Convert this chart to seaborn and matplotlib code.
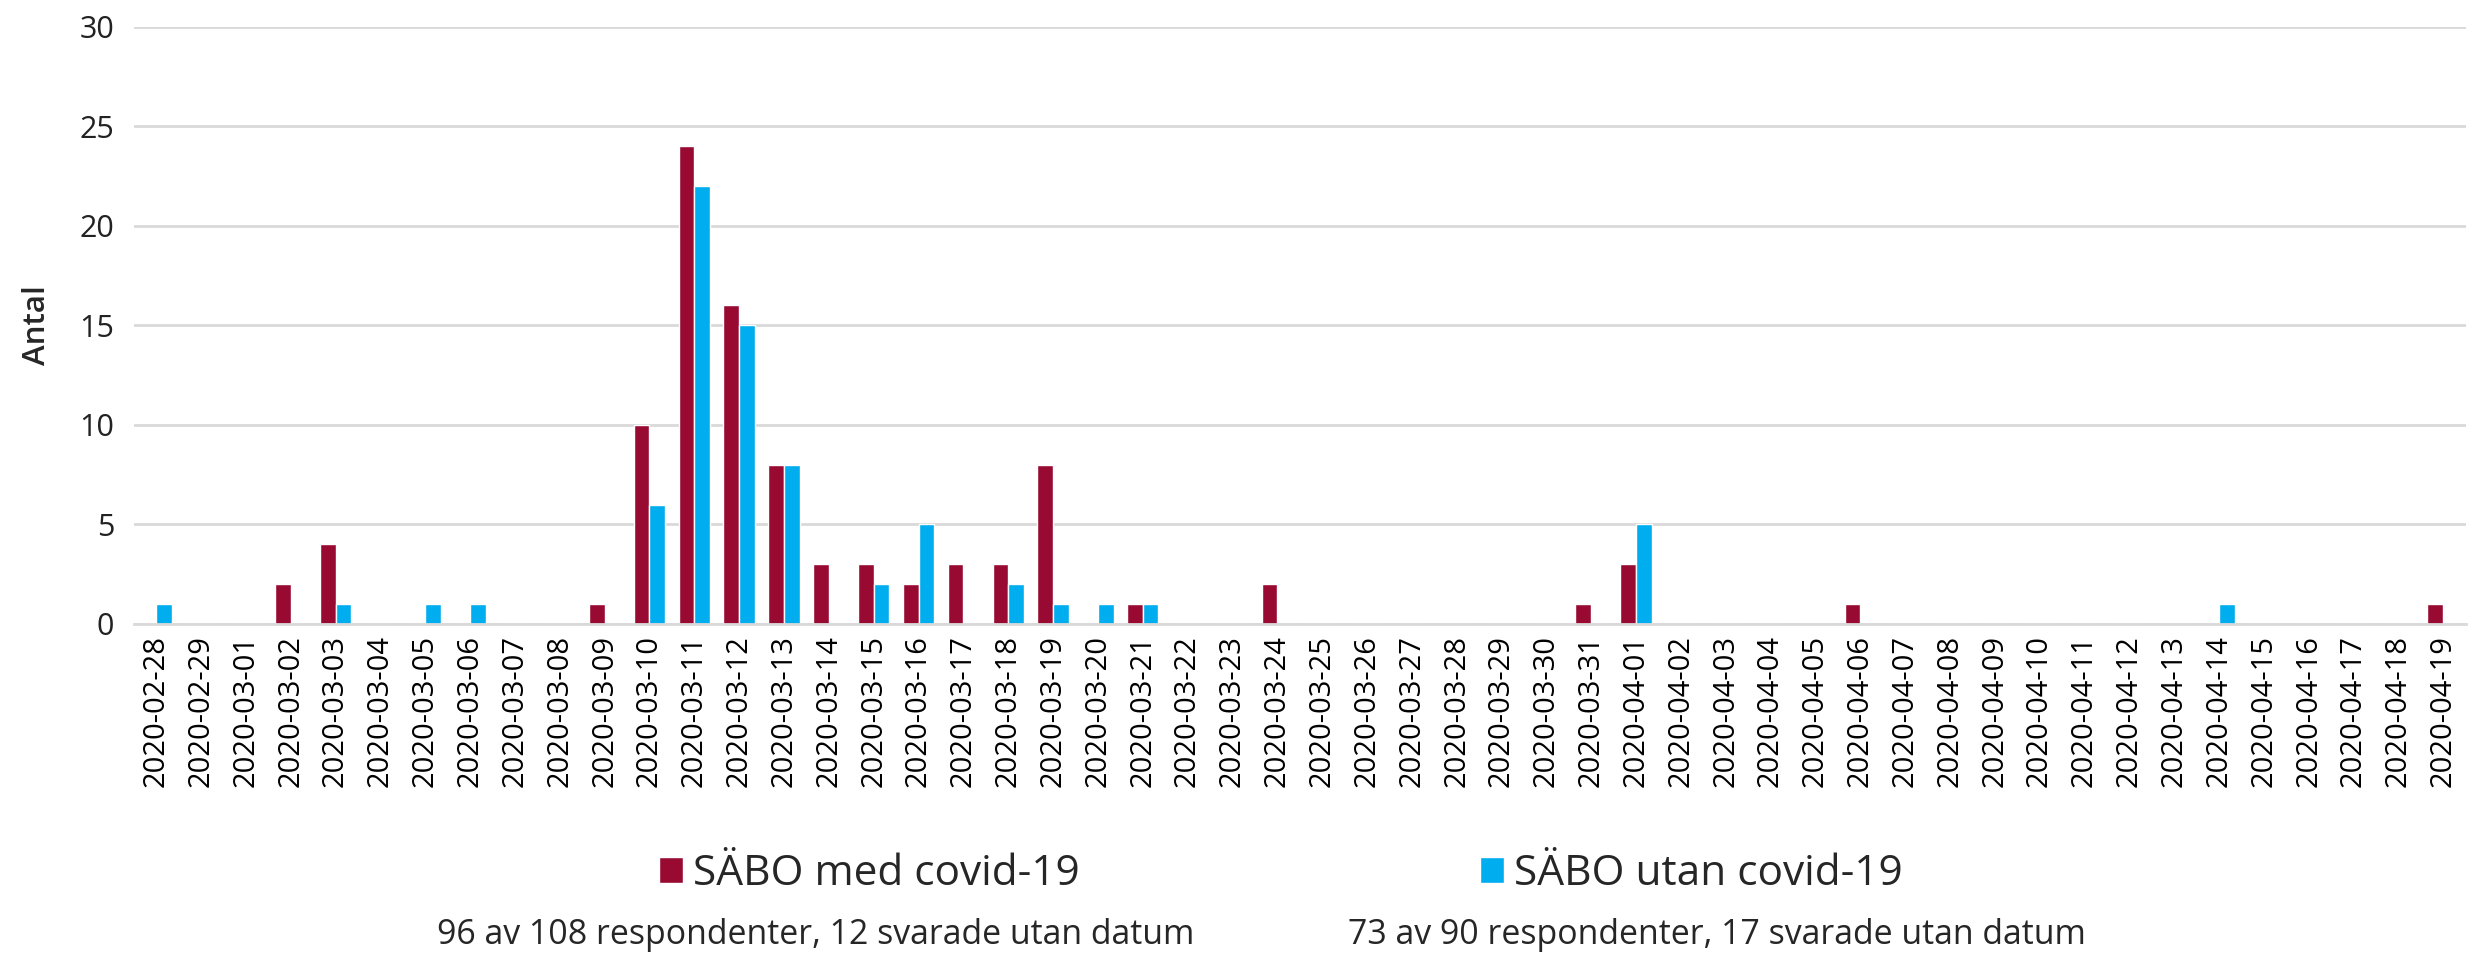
import pandas as pd
import seaborn as sns
import matplotlib.pyplot as plt

# dates 2020-02-28 .. 2020-04-19
dates = pd.date_range("2020-02-28", "2020-04-19").strftime("%Y-%m-%d").tolist()

# counts (0 where no bar)
med_covid = [0, 0, 0, 2, 4, 0, 0, 0, 0, 0, 1, 10, 24, 16, 8, 3, 3, 2, 3, 3,
             8, 0, 1, 0, 0, 2, 0, 0, 0, 0, 0, 0, 1, 3, 0, 0, 0, 0, 1, 0,
             0, 0, 0, 0, 0, 0, 0, 0, 0, 0, 0, 1]
utan_covid = [1, 0, 0, 0, 1, 0, 1, 1, 0, 0, 0, 6, 22, 15, 8, 0, 2, 5, 0, 2,
              1, 1, 1, 0, 0, 0, 0, 0, 0, 0, 0, 0, 0, 5, 0, 0, 0, 0, 0, 0,
              0, 0, 0, 0, 0, 0, 1, 0, 0, 0, 0, 0]

series = ["SÄBO med covid-19", "SÄBO utan covid-19"]
notes = ["96 av 108 respondenter, 12 svarade utan datum",
         "73 av 90 respondenter, 17 svarade utan datum"]

df = pd.DataFrame({"Datum": dates * 2,
                   "Antal": med_covid + utan_covid,
                   "Grupp": [series[0]] * len(dates) + [series[1]] * len(dates)})

sns.set_style("white")
plt.rcParams['font.family'] = ['Open Sans', 'DejaVu Sans']

fig = plt.figure(figsize=(24.78, 9.57), dpi=100)
ax = fig.add_axes([0.054, 0.348, 0.941, 0.624])

sns.barplot(df, x="Datum", y="Antal", hue="Grupp", hue_order=series,
            palette=["#990A33", "#00AEEF"], saturation=1, width=0.7,
            errorbar=None, ax=ax, legend=True)

ax.set_ylim(0, 30)
ax.set_yticks(range(0, 31, 5))
ax.set_xlim(-0.5, len(dates) - 0.5)
ax.yaxis.grid(True, color="#d9d9d9", linewidth=2)
ax.set_axisbelow(True)
for s in ["top", "right", "left"]:
    ax.spines[s].set_visible(False)
ax.spines["bottom"].set_color("#d9d9d9")
ax.spines["bottom"].set_linewidth(2)

ax.tick_params(axis="x", labelsize=21, rotation=90, length=0, pad=8, colors="black")
ax.tick_params(axis="y", labelsize=22, length=0, pad=14, colors="#222222")
ax.set_xlabel("")
ax.set_ylabel("Antal", fontsize=22.5, fontweight="semibold", labelpad=20)

# legend below the axis
handles, labels = ax.get_legend_handles_labels()
ax.get_legend().remove()
fig.legend(handles, labels, loc="center", bbox_to_anchor=(0.517, 0.087),
           ncol=2, frameon=False, fontsize=30.5, handlelength=0.55,
           handleheight=0.55, handletextpad=0.25, columnspacing=9.45)

fig.text(0.329, 0.023, notes[0], ha="center", va="center", fontsize=24.4)
fig.text(0.693, 0.023, notes[1], ha="center", va="center", fontsize=24.4)

plt.savefig("out.png", dpi=100)
